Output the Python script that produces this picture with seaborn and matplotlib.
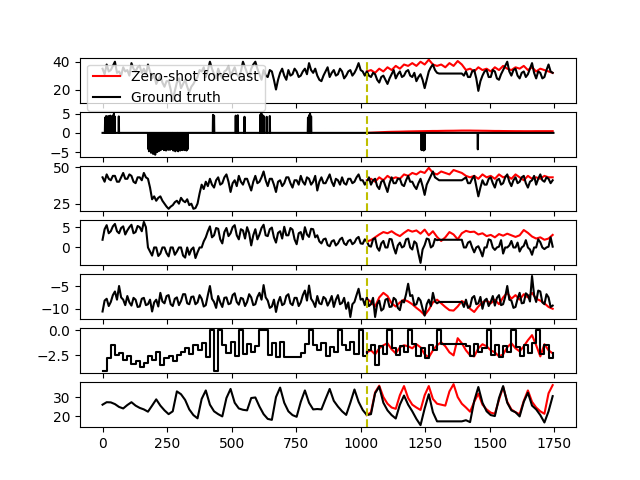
import numpy as np
import matplotlib
matplotlib.use('Agg')
import matplotlib.pyplot as plt
import seaborn as sns

# values; noisy series every 8 steps, smoother ones every 16
fine = 8
coarse = 16
forecast_start = 1024

p1_true = [35, 31, 38, 33, 34, 37, 40, 32, 33, 30, 36, 33, 34, 30, 39, 35, 33, 36, 37, 32,
           35, 31, 38, 33, 28, 31, 24, 27, 30, 25, 22, 26, 26, 20, 12, 19, 25, 28, 21, 24,
           27, 22, 18, 22, 24, 27, 29, 34, 33, 36, 29, 34, 40, 35, 31, 28, 35, 31, 28, 33,
           34, 37, 30, 33, 36, 31, 29, 33, 40, 36, 32, 29, 35, 38, 40, 35, 31, 27, 34, 30,
           29, 34, 33, 27, 20, 27, 32, 35, 30, 27, 34, 30, 31, 35, 33, 29, 30, 33, 35, 31,
           39, 34, 32, 35, 30, 27, 26, 30, 33, 36, 29, 32, 34, 30, 31, 35, 33, 28, 30, 33,
           34, 30, 32, 35, 39, 34, 33, 30, 33, 30, 29, 32, 31, 27, 25, 29, 30, 27, 24, 28,
           31, 34, 28, 31, 33, 29, 30, 33, 34, 30, 29, 32, 26, 29, 31, 27, 21, 27, 33, 36,
           38, 34, 32, 31.5, 31.5, 31.5, 31.5, 31.5, 31.5, 31.5, 31.5, 31.5, 31.5, 31.5,
           31.5, 30, 33, 29, 29, 33, 34, 28, 19, 26, 30, 33, 34, 29, 29, 34, 33, 28, 27, 31,
           34, 37, 40, 33, 30, 34, 35, 30, 28, 32, 33, 29, 31, 35, 39, 32, 28, 33, 32, 28,
           29, 34, 38, 33, 32]
p1_pred = [33, 34, 32, 35, 33, 36, 34, 37, 35, 38, 37, 39, 37, 40, 38, 41.5, 38, 37, 38, 36,
           39, 37, 40.5, 38, 34, 35, 33, 36, 34, 35, 33, 36, 34, 37, 35, 34, 36, 35, 37, 34,
           36, 33, 35, 34, 33, 32]

# second series is flat at zero with short spikes
p2_len = 1748
p2_spike_t = [10, 14, 18, 22, 26, 30, 34, 38, 42, 44, 47, 63,
              177, 180, 184, 188, 192, 196, 200, 204, 208, 212, 216, 220, 224, 227,
              234, 238, 242, 246, 250, 254, 258, 262, 266,
              274, 278, 282, 286,
              293, 297, 301, 305, 309, 313, 317, 321, 325, 329,
              428, 432, 516, 520, 524, 550, 612, 616, 620, 624, 636, 648,
              796, 800, 804, 808, 1236, 1240, 1244, 1248, 1454]
p2_spike_v = [4.0, 4.4, 3.6, 4.4, 4.1, 4.5, 3.9, 4.4, 4.6, 5.0, 4.3, 4.3,
              -4.2, -4.8, -4.5, -5.2, -4.6, -5.5, -4.9, -5.7, -4.4, -5.0, -4.3, -4.7, -4.1, -4.4,
              -4.2, -4.5, -4.3, -4.6, -4.2, -4.4, -4.3, -4.4, -4.2,
              -4.6, -4.3, -4.8, -4.5,
              -4.8, -4.4, -4.6, -4.3, -4.5, -4.2, -4.5, -4.4, -4.6, -4.3,
              4.7, 4.5, 4.5, 4.3, 4.6, 4.2, 4.8, 5.0, 4.6, 4.4, 4.2, 4.4,
              4.0, 4.6, 5.0, 4.3, -4.5, -4.3, -4.6, -4.4, -4.3]
p2_pred = [0.0, 0.05, 0.1, 0.15, 0.2, 0.25, 0.28, 0.3, 0.32, 0.35, 0.38, 0.4, 0.42, 0.44,
           0.46, 0.48, 0.5, 0.5, 0.52, 0.54, 0.55, 0.56, 0.58, 0.6, 0.6, 0.6, 0.58, 0.57,
           0.55, 0.54, 0.52, 0.5, 0.5, 0.48, 0.47, 0.46, 0.45, 0.45, 0.44, 0.44, 0.44, 0.45,
           0.45, 0.45, 0.45, 0.45]

p3_true = [43, 40, 45, 42, 41, 44, 44, 40, 40, 43, 46, 42, 42, 45, 44, 40, 39, 43, 43, 41,
           46, 43, 42, 36, 28, 30, 27, 29, 30, 27, 25, 23, 21.5, 23, 24, 26, 27, 25, 29, 27,
           26, 28, 24, 25, 21.5, 22, 25, 32, 38, 35, 40, 37, 42, 38, 36, 41, 43, 38, 39, 43,
           45, 40, 33, 39, 41, 37, 44, 40, 38, 42, 42, 38, 34, 40, 44, 39, 40, 43, 47, 41,
           37, 42, 42, 38, 33, 40, 41, 37, 39, 43, 43, 39, 36, 41, 41, 38, 44, 40, 38, 43,
           42, 38, 40, 44, 34, 40, 43, 39, 39, 42, 45, 40, 37, 42, 41, 38, 43, 39, 38, 42,
           42, 39, 40, 43, 45, 41, 41, 38, 40, 43, 38, 41, 42, 37, 35, 40, 41, 37, 33, 39,
           43, 39, 39, 42, 42, 38, 37, 41, 44, 40, 40, 37, 35, 39, 42, 37, 31, 38, 41, 44,
           47, 43, 42, 41, 41, 41, 41, 41, 41, 41, 41, 41, 41, 41, 41, 42, 43, 39, 39, 42,
           44, 37, 30, 36, 41, 38, 38, 42, 43, 39, 36, 41, 42, 38, 39, 43, 45, 40, 37, 41,
           43, 39, 40, 43, 44, 39, 36, 40, 41, 44, 38, 42, 45, 41, 40, 43, 42, 39, 41]
p3_pred = [41, 42, 40, 43, 41, 44, 42, 43, 42, 45, 44, 46, 45, 47, 46, 49.5, 46, 45, 47, 46,
           45, 48, 47, 46, 44, 43, 44, 42, 45, 43, 44, 42, 45, 43, 44, 42, 45, 43, 41, 44,
           42, 43, 42, 44, 43, 43]

p4_true = [1.9, 4.5, 5.5, 3.5, 4.0, 5.2, 5.8, 4.0, 3.5, 4.8, 5.2, 3.2, 4.2, 5.0, 5.6, 3.5,
           3.8, 5.3, 5.0, 4.0, 6.3, 5.0, 0.0, -1.0, -2.0, 0.0, 0.0, -2.1, -1.5, 0.0, 0.0, -1.4,
           -2.2, 0.0, 0.0, -1.8, -1.0, 0.0, 0.0, -2.0, -2.5, 0.0, -1.8, -0.5, 0.0, -2.6, -1.2, 0.0,
           0.0, 1.5, 2.5, 4.0, 5.2, 2.5, 3.0, 4.8, 4.6, 2.0, 1.0, 3.8, 4.8, 2.8, 3.5, 5.0,
           5.5, 3.0, 2.0, 4.5, 4.2, 2.2, 5.0, 3.5, 0.5, 3.0, 4.5, 2.0, 3.2, 4.8, 5.6, 3.0,
           2.8, 4.5, 4.9, 2.5, 1.2, 3.6, 4.0, 2.2, 5.1, 3.0, 3.0, 4.8, 4.4, 2.0, 0.8, 3.5,
           3.8, 2.0, 5.0, 3.2, 2.6, 4.6, 4.5, 2.5, 3.0, 1.5, 1.0, 2.0, 2.2, 0.6, 0.3, 1.5,
           1.8, 0.5, 1.0, 2.0, 2.4, 1.0, 0.6, 1.6, 1.9, 0.8, 1.2, 2.2, 2.6, 1.0, 0.9, 2.0,
           1.5, 0.4, 0.2, 2.0, 2.3, 0.0, -0.8, 1.0, 1.6, 0.0, 0.0, 2.1, 2.0, 0.0, -1.5, 0.5,
           1.2, 0.0, 0.3, 2.0, 2.2, 0.0, -0.5, 1.5, 1.0, -1.5, -3.8, -0.5, 0.6, 2.2, 2.0, 0.0,
           0.4, 2.1, 1.8, 1.9, 1.9, 1.9, 1.9, 1.9, 1.9, 1.9, 1.9, 1.9, 1.9, 1.9, 1.9, 0.0,
           0.0, 1.2, 1.5, 0.0, -1.2, 0.0, 0.3, -0.8, -2.2, 0.0, 0.0, 2.0, 1.8, 0.0, -0.6, 0.0,
           0.2, 1.8, -1.5, 0.0, 0.0, 0.5, 1.6, 0.0, 0.0, 1.2, -1.0, 0.0, 0.4, 1.8, 0.0, -0.5,
           -1.8, 0.0, 0.0, 2.0, 1.3, 0.0, -0.4, 0.0, 0.2, 2.5, 0.2]
p4_pred = [1.5, 1.8, 2.5, 3.2, 3.8, 3.5, 4.0, 3.3, 2.8, 3.6, 4.3, 3.9, 4.2, 3.4, 4.4, 3.0,
           4.0, 2.6, 1.6, 2.5, 3.8, 3.2, 2.0, 3.5, 4.1, 3.8, 3.9, 3.2, 3.5, 2.8, 3.1, 2.5,
           3.3, 2.9, 3.4, 3.0, 2.6, 3.0, 4.3, 3.6, 2.7, 2.2, 2.5, 1.9, 2.2, 3.1]

p5_true = [-10.6, -8.2, -7.8, -9.4, -8.5, -7.0, -6.2, -8.0, -5.0, -7.5, -8.0, -9.2, -7.2, -8.6,
           -9.3, -7.6, -8.0, -9.6, -9.5, -7.8, -7.6, -9.2, -9.0, -8.0, -10.6, -8.6, -8.0, -9.5,
           -6.5, -8.4, -8.8, -7.2, -7.0, -9.0, -9.4, -7.8, -7.5, -9.2, -8.3, -6.8, -6.8, -8.8,
           -9.0, -7.4, -7.3, -9.0, -8.6, -7.0, -7.8, -9.5, -9.2, -7.0, -5.0, -7.8, -8.5, -9.8,
           -7.2, -8.6, -9.6, -7.6, -7.5, -9.0, -8.8, -7.0, -6.6, -8.5, -9.1, -7.6, -7.8, -9.4,
           -8.5, -6.8, -7.5, -9.2, -9.0, -7.4, -6.5, -8.0, -4.8, -7.5, -8.2, -9.8, -9.5, -8.0,
           -10.7, -8.6, -7.4, -9.2, -8.9, -7.2, -6.8, -8.8, -9.2, -7.6, -7.6, -9.4, -8.6, -7.0,
           -6.0, -8.2, -4.9, -7.8, -8.5, -9.6, -7.2, -8.8, -9.0, -7.4, -7.8, -9.3, -8.4, -7.2,
           -9.6, -8.0, -7.0, -9.0, -8.7, -7.6, -10.0, -8.6, -11.8, -9.0, -8.5, -7.0, -5.6, -8.0,
           -7.8, -9.2, -7.5, -9.4, -9.0, -7.6, -11.8, -9.0, -8.2, -10.4, -10.0, -8.0, -7.8, -9.6,
           -9.5, -7.6, -8.0, -9.8, -10.3, -8.2, -8.6, -6.8, -4.5, -7.2, -7.0, -9.2, -9.0, -7.6,
           -8.2, -10.0, -11.5, -9.0, -8.0, -9.4, -6.5, -8.4, -8.8, -8.5, -8.5, -8.5, -8.5, -8.5,
           -8.5, -8.5, -8.5, -8.5, -8.5, -8.5, -8.5, -9.6, -8.0, -9.8, -9.5, -7.6, -7.2, -9.0,
           -8.8, -7.4, -10.0, -8.2, -7.8, -9.4, -8.5, -7.2, -9.3, -7.6, -7.0, -9.2, -9.0, -7.4,
           -5.0, -8.0, -8.2, -9.8, -9.6, -7.8, -6.5, -8.8, -8.7, -6.6, -7.0, -8.4, -2.8, -7.0,
           -8.5, -6.0, -6.2, -8.6, -9.0, -6.8, -7.5, -9.6, -9.3]
p5_pred = [-7.8, -8.5, -9.5, -7.5, -6.5, -7.2, -8.8, -9.5, -8.6, -8.0, -8.4, -9.0, -9.8,
           -10.5, -11.4, -10.2, -8.6, -8.0, -8.8, -9.6, -10.3, -10.4, -9.5, -8.3, -8.8,
           -10.0, -10.7, -9.5, -8.6, -8.2, -8.8, -8.0, -9.0, -7.5, -6.5, -7.8, -7.0, -8.0,
           -6.8, -7.5, -6.5, -7.8, -8.2, -8.8, -9.6, -10.0]

p6_true = [-4.05, -2.8, -1.5, -2.5, -2.3, -3.0, -2.6, -3.4, -3.1, -3.6,
           -3.3, -2.6, -3.0, -2.2, -3.5, -2.8, -2.6, -3.1, -2.5, -2.2,
           -1.8, -2.4, -1.5, -2.0, -1.3, -2.7, 0.0, -4.0, 0.0, -1.5,
           -2.3, -1.2, -2.6, 0.0, -2.4, -1.4, -2.2, -1.6, 0.0, 0.0,
           -2.5, -1.3, -2.7, -1.2, -2.7, -2.7, -2.7, -2.7, -2.3, -1.4,
           0.0, -1.5, -2.0, -1.3, -2.6, -1.7, -2.2, 0.0, -1.5, -2.0,
           -1.2, -2.4, 0.0, -2.6, -2.0, -1.5, -3.5, -1.6, -2.4, 0.0,
           -1.8, -2.5, -1.6, -2.2, 0.0, -1.4, -2.6, -1.8, -2.8, -1.5,
           -2.0, 0.0, -1.35, -1.35, -1.35, -1.35, -1.35, -1.35, -1.6, -2.6,
           -1.4, -2.2, -1.8, 0.0, -2.5, -1.5, -2.7, -1.6, -2.2, 0.0,
           -1.7, -2.6, -1.5, -2.3, -1.3, 0.0, -2.4, -1.5, -2.8, -2.3]
p6_pred = [-2.2, -2.0, -2.4, -1.8, -1.5, -1.3, -1.9, -2.3, -1.7, -1.5, -1.6, -1.8, -1.4,
           -1.7, -2.4, -2.7, -2.0, -1.5, -1.2, -1.6, -2.2, -2.5, -0.8, -1.3, -2.0, -2.5,
           -2.6, -1.8, -1.4, -1.6, -2.0, -2.2, -2.6, -2.4, -1.7, -1.3, -1.8, -2.1, -1.6,
           -1.0, -0.5, -1.5, -2.6, -1.4, -2.0, -2.3]

p7_true = [26.0, 27.3, 27.2, 26.3, 24.8, 24.0, 25.8, 27.3, 25.5, 24.3, 23.5, 22.3,
           25.5, 28.8, 25.5, 23.0, 21.0, 22.5, 33.0, 31.5, 28.5, 23.5, 20.5, 18.8,
           29.0, 33.5, 26.0, 22.5, 21.0, 19.8, 29.5, 34.3, 27.0, 24.0, 23.3, 23.0,
           29.5, 29.8, 25.0, 21.0, 18.5, 18.0, 30.0, 35.0, 27.0, 22.5, 20.5, 19.6,
           27.5, 33.5, 27.0, 23.5, 23.7, 23.5, 29.0, 34.3, 28.0, 25.0, 22.5, 20.6,
           27.0, 34.0, 27.5, 23.2, 20.5, 21.0, 32.0, 35.5, 27.0, 23.0, 20.5, 18.7,
           26.0, 30.8, 26.0, 22.5, 18.5, 15.2, 24.0, 31.5, 22.0, 17.2,
           17.2, 17.2, 17.2, 17.2, 17.2, 17.2, 17.8, 16.8,
           28.0, 35.3, 27.0, 22.5, 20.5, 20.0, 29.5, 35.8, 27.0, 23.0, 22.0, 19.8,
           27.5, 32.3, 25.5, 23.5, 20.5, 16.6, 22.5, 30.5]
p7_pred = [20.5, 22.0, 32.5, 36.0, 30.0, 26.5, 24.5, 23.8, 31.0, 35.8, 29.5, 26.0, 24.5,
           23.2, 31.0, 35.8, 29.0, 26.5, 26.0, 25.5, 33.0, 36.8, 30.0, 26.5, 24.5, 22.3,
           27.5, 31.8, 26.0, 23.5, 21.8, 21.2, 28.5, 35.3, 27.5, 23.5, 22.0, 21.0, 28.0,
           33.5, 27.5, 24.5, 22.5, 21.2, 32.0, 36.3]

# build the spiky series
p2_true = np.zeros(p2_len)
p2_true[p2_spike_t] = p2_spike_v


def steps_of(vals, every):
    return np.arange(len(vals)) * every


t_pred = forecast_start + np.arange(len(p1_pred)) * coarse

panels = [(steps_of(p1_true, fine), p1_true, p1_pred),
          (np.arange(p2_len), p2_true, p2_pred),
          (steps_of(p3_true, fine), p3_true, p3_pred),
          (steps_of(p4_true, fine), p4_true, p4_pred),
          (steps_of(p5_true, fine), p5_true, p5_pred),
          (steps_of(p6_true, coarse), p6_true, p6_pred),
          (steps_of(p7_true, coarse), p7_true, p7_pred)]

fig, axes = plt.subplots(7, 1, sharex=True, figsize=(6.4, 4.8), dpi=100)
for i, (ax, (tx, gt, pred)) in enumerate(zip(axes, panels)):
    first = i == 0
    sns.lineplot(x=t_pred, y=pred, color='r', ax=ax,
                 label='Zero-shot forecast' if first else None)
    ds = 'steps-post' if i == 5 else 'default'
    sns.lineplot(x=tx, y=gt, color='k', ax=ax, drawstyle=ds,
                 label='Ground truth' if first else None)
    ax.axvline(forecast_start, color='y', linestyle='--')
    if first:
        ax.legend(loc='upper left')

fig.savefig('out.png')
